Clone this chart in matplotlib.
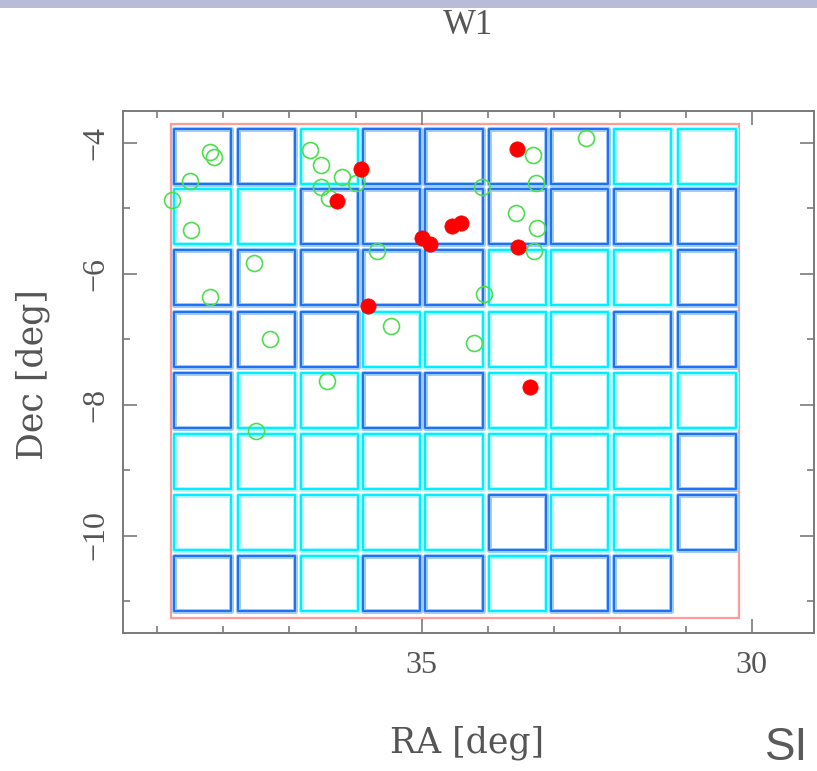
import matplotlib
matplotlib.use("Agg")
import matplotlib.pyplot as plt
from matplotlib.patches import Rectangle
from matplotlib.ticker import MultipleLocator

# Pointing centres of the W1 mosaic (deg)
ra_centers = [38.31, 37.35, 36.40, 35.46, 34.51, 33.55, 32.61, 31.66, 30.68]
dec_centers = [-4.20, -5.13, -6.06, -7.00, -7.93, -8.87, -9.80, -10.74]

# 1 = observed pointing (blue), 0 = scheduled pointing (cyan), None = no pointing
field_status = [
    [1, 1, 0, 1, 1, 1, 1, 0, 0],
    [0, 0, 1, 1, 1, 1, 1, 1, 1],
    [1, 1, 1, 1, 1, 0, 0, 0, 1],
    [1, 1, 1, 0, 0, 0, 0, 1, 1],
    [1, 0, 0, 1, 1, 0, 0, 0, 0],
    [0, 0, 0, 0, 0, 0, 0, 0, 1],
    [0, 0, 0, 0, 0, 1, 0, 0, 1],
    [1, 1, 0, 1, 1, 0, 1, 1, None],
]

# Survey footprint (deg)
field_ra = [30.20, 38.79]
field_dec = [-11.26, -3.71]

# Open green circles
green_ra = [38.197, 38.147, 38.500, 38.780, 38.485, 37.541, 36.682, 36.530,
            36.202, 36.530, 36.000, 36.405, 35.671, 38.208, 37.288, 36.429,
            37.500, 35.470, 33.308, 32.505, 34.091, 33.273, 33.576, 33.258,
            33.298, 34.061, 34.208]
green_dec = [-4.133, -4.209, -4.573, -4.870, -5.336, -5.837, -4.107, -4.336,
             -4.515, -4.679, -4.615, -4.847, -5.649, -6.351, -6.997, -7.634,
             -8.408, -6.794, -4.183, -3.928, -4.676, -4.606, -5.064, -5.302,
             -5.644, -6.305, -7.058]

# Filled red points
red_ra = [35.924, 36.288, 33.561, 33.541, 34.535, 34.409, 34.989, 34.874,
          35.808, 33.364]
red_dec = [-4.402, -4.893, -4.096, -5.592, -5.267, -5.226, -5.455, -5.542,
           -6.489, -7.730]

text_gray = "#555555"
axis_gray = "#7a7a7a"

fig = plt.figure(figsize=(8.17, 7.71), dpi=100)
ax = fig.add_axes([123 / 817, 1 - 633 / 771, (814 - 123) / 817, (633 - 111) / 771])

# Header strip
fig.patches.append(Rectangle((0, 1 - 8 / 771), 1, 8 / 771, transform=fig.transFigure,
                             facecolor="#b9bcd9", edgecolor="none"))

# Pointings
half_w, half_h = 0.432, 0.42
styles = {1: ("#a2cbfa", "#1f72f5"), 0: ("#a8fbff", "#00eeff")}
for i, row in enumerate(field_status):
    for j, s in enumerate(row):
        if s is None:
            continue
        light, dark = styles[s]
        for lw, c in ((3.6, light), (1.5, dark)):
            ax.add_patch(Rectangle((ra_centers[j] - half_w, dec_centers[i] - half_h),
                                   2 * half_w, 2 * half_h, fill=False, ec=c, lw=lw,
                                   joinstyle="round", zorder=2))

# Footprint outline
ax.add_patch(Rectangle((field_ra[0], field_dec[0]), field_ra[1] - field_ra[0],
                       field_dec[1] - field_dec[0], fill=False, ec="#ff9a9a",
                       lw=1.6, zorder=1.5))

ax.plot(green_ra, green_dec, "o", ms=11.5, mfc="none", mec="#4be04b", mew=1.2, zorder=3)
ax.plot(red_ra, red_dec, "o", ms=11, mfc="#ff0000", mec="#ff0000", mew=0.5, zorder=4)

ax.set_xlim(39.52, 29.06)
ax.set_ylim(-11.49, -3.51)

ax.xaxis.set_major_locator(MultipleLocator(5))
ax.xaxis.set_minor_locator(MultipleLocator(1))
ax.yaxis.set_major_locator(MultipleLocator(2))
ax.yaxis.set_minor_locator(MultipleLocator(1))

ax.tick_params(which="both", direction="in", top=True, right=True,
               color=axis_gray, width=1.2, labelcolor=text_gray)
ax.tick_params(which="major", length=10)
ax.tick_params(which="minor", length=5)
ax.tick_params(axis="x", which="major", pad=13)
ax.tick_params(axis="y", which="major", pad=9)
for spine in ax.spines.values():
    spine.set_color(axis_gray)
    spine.set_linewidth(1.4)

for lab in ax.get_xticklabels():
    lab.set_fontfamily("Liberation Serif")
    lab.set_fontsize(23)
ax.set_yticks([-4, -6, -8, -10])
ax.set_yticklabels(["\u22124", "\u22126", "\u22128", "\u221210"], rotation=90,
                   va="center", family="Liberation Serif", fontsize=23)

fig.text(468 / 817, 1 - 25 / 771, "W1", ha="center", va="center",
         family="Liberation Serif", fontsize=25, color=text_gray)
fig.text(467 / 817, 1 - 743 / 771, "RA [deg]", ha="center", va="center",
         family="DejaVu Serif", fontsize=25, color=text_gray)
fig.text(33 / 817, 1 - 375 / 771, "Dec [deg]", ha="center", va="center",
         rotation=90, family="DejaVu Serif", fontsize=25, color=text_gray)

# Slide text in the lower-right corner
fig.text(765 / 817, 1 / 771, "SI", ha="left", va="bottom",
         family="Liberation Sans", fontsize=33, color="#5a5a5a")

fig.savefig("out.png", dpi=100)
